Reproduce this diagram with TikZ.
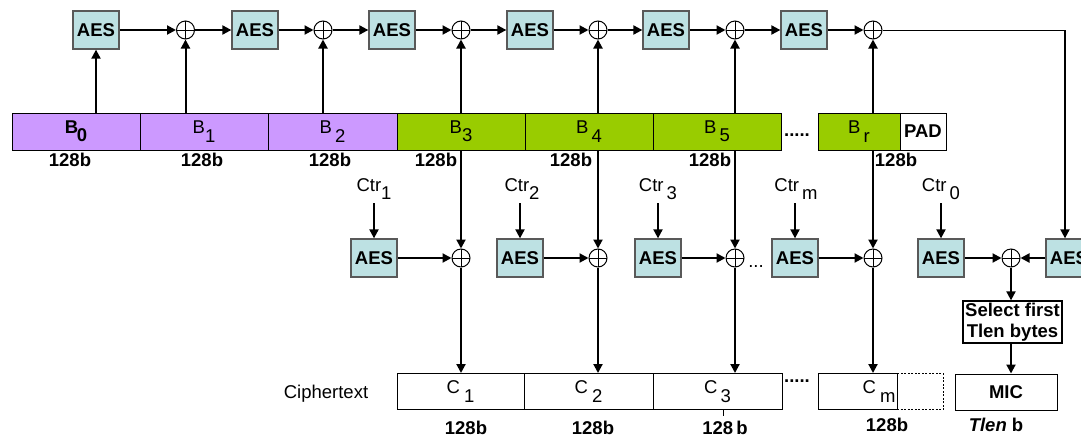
\documentclass[tikz,border=0pt]{standalone}
\usepackage{fontspec}
\setmainfont{Liberation Sans}
\usetikzlibrary{arrows.meta}

\definecolor{aesblue}{HTML}{BDE1E3}
\definecolor{blkviolet}{HTML}{CC99FF}
\definecolor{blkgreen}{HTML}{99CC00}
\newcommand{\sbs}[1]{\raisebox{-0.45em}{#1}}
\newcommand{\diafont}{\fontsize{18.5}{21}\selectfont}

\begin{document}
\begin{tikzpicture}[x=1pt, y=-1pt, >={Triangle[length=9pt,width=9pt]},
  every node/.style={font=\diafont},
  aes/.style={draw=black!65, line width=1.3pt, fill=aesblue, minimum width=46pt,
    minimum height=38pt, inner sep=0pt, font=\diafont\bfseries},
  xor/.style={circle, draw, fill=white, line width=1pt, minimum size=18pt, inner sep=0pt,
    path picture={\draw[line width=0.8pt] (path picture bounding box.north) -- (path picture bounding box.south)
      (path picture bounding box.west) -- (path picture bounding box.east);}},
  flow/.style={->, line width=2pt},
  blk/.style={draw, line width=1pt, minimum height=37pt, inner sep=0pt},
  cblk/.style={blk, minimum height=36pt},
  bits/.style={font=\diafont\bfseries}
]
    \useasboundingbox (0,0) rectangle (1081,437);

    % plaintext blocks
    \node[blk, fill=blkviolet, minimum width=128pt] (B0) at (76,131.5) {\textbf{B\kern-1.5pt\sbs{0}}};
    \node[blk, fill=blkviolet, minimum width=128pt] (B1) at (204,131.5) {B\sbs{1}};
    \node[blk, fill=blkviolet, minimum width=129pt] (B2) at (332.5,131.5) {B\,\sbs{2}};
    \node[blk, fill=blkgreen, minimum width=128pt] (B3) at (461,131.5) {B\sbs{3}};
    \node[blk, fill=blkgreen, minimum width=128pt] (B4) at (589,131.5) {B\,\sbs{4}};
    \node[blk, fill=blkgreen, minimum width=128pt] (B5) at (717,131.5) {B\,\sbs{5}};
    \node[blk, fill=blkgreen, minimum width=82pt] (Br) at (859,131.5) {B\,\sbs{r}};
    \node[blk, fill=white, minimum width=46pt, font=\diafont\bfseries] (PAD) at (923,131.5) {PAD};
    \node[font=\diafont\bfseries] (dotsB) at (797,135) {.....};

    \node[bits] (s0) at (70,160) {128b};
    \node[bits] (s1) at (202,160) {128b};
    \node[bits] (s2) at (330,160) {128b};
    \node[bits] (s3) at (436,160) {128b};
    \node[bits] (s4) at (571,160) {128b};
    \node[bits] (s5) at (710,160) {128b};
    \node[bits] (sr) at (896,160) {128b};

    % CBC-MAC chain
    \node[aes] (A1) at (96,30) {AES};
    \node[xor] (X1) at (185.5,30) {};
    \node[aes] (A2) at (255,30) {AES};
    \node[xor] (X2) at (323,30) {};
    \node[aes] (A3) at (392,30) {AES};
    \node[xor] (X3) at (461,30) {};
    \node[aes] (A4) at (530,30) {AES};
    \node[xor] (X4) at (598,30) {};
    \node[aes] (A5) at (666,30) {AES};
    \node[xor] (X5) at (735,30) {};
    \node[aes] (A6) at (804,30) {AES};
    \node[xor] (X6) at (873,30) {};
    \coordinate (T) at (1065,30);

    \draw[flow] (A1) -- (X1);
    \draw[flow] (X1) -- (A2);
    \draw[flow] (A2) -- (X2);
    \draw[flow] (X2) -- (A3);
    \draw[flow] (A3) -- (X3);
    \draw[flow] (X3) -- (A4);
    \draw[flow] (A4) -- (X4);
    \draw[flow] (X4) -- (A5);
    \draw[flow] (A5) -- (X5);
    \draw[flow] (X5) -- (A6);
    \draw[flow] (A6) -- (X6);

    \draw[flow] (B0.north -| A1) -- (A1);
    \draw[flow] (B1.north -| X1) -- (X1);
    \draw[flow] (B2.north -| X2) -- (X2);
    \draw[flow] (B3.north -| X3) -- (X3);
    \draw[flow] (B4.north -| X4) -- (X4);
    \draw[flow] (B5.north -| X5) -- (X5);
    \draw[flow] (Br.north -| X6) -- (X6);

    % counter mode row
    \node[aes] (M1) at (374,258) {AES};
    \node[xor] (Y1) at (461,258) {};
    \node[aes] (M2) at (520,258) {AES};
    \node[xor] (Y2) at (598,258) {};
    \node[aes] (M3) at (658,258) {AES};
    \node[xor] (Y3) at (735,258) {};
    \node (dotsM) at (756,267) {...};
    \node[aes] (M4) at (795,258) {AES};
    \node[xor] (Y4) at (873,258) {};
    \node[aes] (M0) at (941,258) {AES};
    \node[xor] (Y0) at (1011,258) {};
    \node[aes] (MR) at (1069,258) {AES};

    \node (K1) at (374,189) {Ctr\sbs{1}};
    \node (K2) at (522,189) {Ctr\sbs{2}};
    \node (K3) at (658,189) {Ctr\,\sbs{3}};
    \node (K4) at (796,189) {Ctr\,\sbs{m}};
    \node (K0) at (941,189) {Ctr\,\sbs{0}};

    \draw[flow] (K1.south -| M1) -- (M1);
    \draw[flow] (K2.south -| M2) -- (M2);
    \draw[flow] (K3.south -| M3) -- (M3);
    \draw[flow] (K4.south -| M4) -- (M4);
    \draw[flow] (K0.south -| M0) -- (M0);

    \draw[flow] (M1) -- (Y1);
    \draw[flow] (M2) -- (Y2);
    \draw[flow] (M3) -- (Y3);
    \draw[flow] (M4) -- (Y4);
    \draw[flow] (M0) -- (Y0);
    \draw[flow] (MR) -- (Y0);

    \draw[flow] (B3.south -| Y1) -- (Y1);
    \draw[flow] (B4.south -| Y2) -- (Y2);
    \draw[flow] (B5.south -| Y3) -- (Y3);
    \draw[flow] (Br.south -| Y4) -- (Y4);

    \draw[line width=1pt] (X6) -- (T);
    \draw[flow] (T) -- (MR.north -| T);

    % ciphertext and MIC
    \node (ctext) at (326,394) {Ciphertext};
    \node[cblk, minimum width=127pt] (C1) at (460.5,391.5) {C\hspace{4pt}\sbs{1}};
    \node[cblk, minimum width=129pt] (C2) at (588.5,391.5) {C\hspace{4pt}\sbs{2}};
    \node[cblk, minimum width=129pt] (C3) at (717.5,391.5) {C\,\sbs{3}};
    \node[font=\diafont\bfseries] (dotsC) at (797,381) {.....};
    \node[cblk, dash pattern=on 2pt off 1.5pt, minimum width=46pt] (Cpad) at (920,391.5) {};
    \node[cblk, minimum width=79pt, text width=76pt, align=right] (Cm) at (857.5,391.5) {C\hspace{4pt}\sbs{m}};
    \node[cblk, minimum width=102pt, font=\diafont\bfseries] (MIC) at (1006,392) {MIC};
    \node[blk, line width=1.3pt, minimum width=99pt, minimum height=42pt, align=center,
      font=\diafont\bfseries] (Sel) at (1012.5,322) {Select first\\Tlen bytes};

    \draw[flow] (Y1) -- (C1.north -| Y1);
    \draw[flow] (Y2) -- (C2.north -| Y2);
    \draw[flow] (Y3) -- (C3.north -| Y3);
    \draw[flow] (Y4) -- (Cm.north -| Y4);
    \draw[flow] (Y0) -- (Sel.north -| Y0);
    \draw[flow] (Sel.south -| Y0) -- (MIC.north -| Y0);
    \draw[line width=0.6pt] (C3.south -| 723.5,0) -- ++(0,6);

    \node[bits] (t1) at (466,428) {128b};
    \node[bits] (t2) at (593,428) {128b};
    \node[bits] (t3) at (725,428) {128\,b};
    \node[bits] (tm) at (887,425) {128b};
    \node[bits] (tl) at (996,425) {\textit{Tlen} b};
\end{tikzpicture}
\end{document}
